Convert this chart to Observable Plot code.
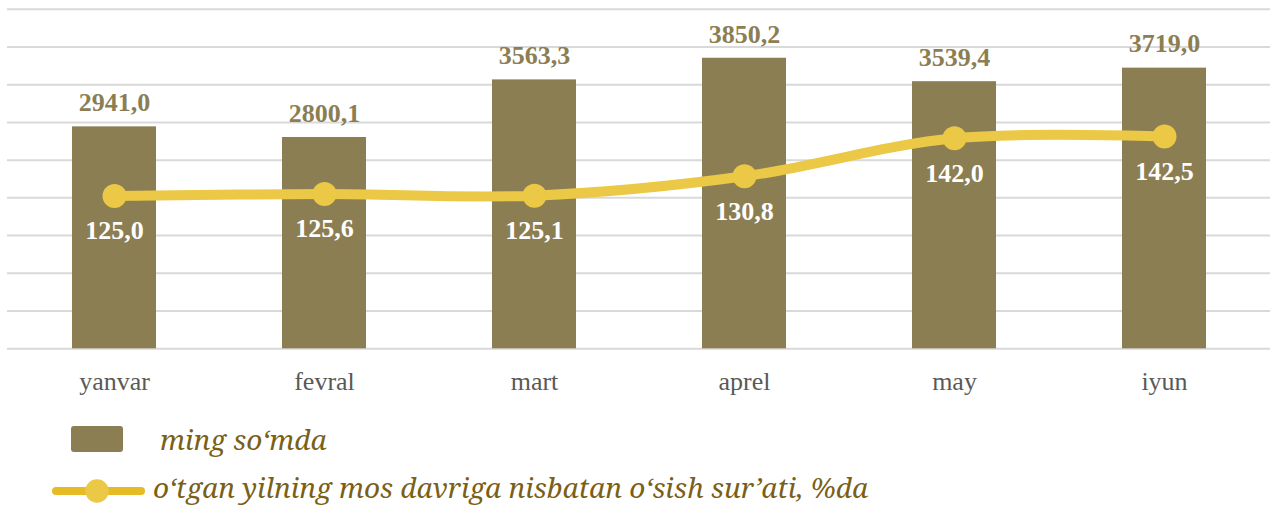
<!DOCTYPE html>
<html>
<head>
<meta charset="utf-8">
<script src="https://cdn.jsdelivr.net/npm/d3@7"></script>
<script src="https://cdn.jsdelivr.net/npm/@observablehq/plot@0.6"></script>
<style>
  html, body { margin: 0; padding: 0; background: #fff; }
  #wrap { position: relative; width: 1276px; height: 508px; overflow: hidden; }
  #chart { position: absolute; left: 0; top: 0; }
  .leg { position: absolute; font-family: 'Noto Serif', 'DejaVu Serif', serif; font-style: italic; color: #7A6016; font-size: 28px; line-height: 1; white-space: nowrap; }
  #chart svg text { font-family: 'Liberation Serif', 'Times New Roman', serif !important; }
</style>
</head>
<body>
<div id="wrap">
  <div id="chart"></div>
  <div id="legBar" style="position:absolute;left:71px;top:426px;width:52px;height:26px;background:#8B7E52;border-radius:3px;"></div>
  <div class="leg" id="legBarText" style="left:160px;top:425px;"></div>
  <svg style="position:absolute;left:46px;top:476px;" width="106" height="30">
    <line x1="10" y1="15" x2="95" y2="15" stroke="#E6BB25" stroke-width="8" stroke-linecap="round"></line>
    <circle cx="51" cy="15" r="11.7" fill="#EBC845"></circle>
  </svg>
  <div class="leg" id="legLineText" style="left:153px;top:473px;"></div>
</div>
<script>
const months = ["yanvar", "fevral", "mart", "aprel", "may", "iyun"];
const amounts = [2941.0, 2800.1, 3563.3, 3850.2, 3539.4, 3719.0];
const growth = [125.0, 125.6, 125.1, 130.8, 142.0, 142.5];
const barSeriesName = "ming so‘mda";
const lineSeriesName = "o‘tgan yilning mos davriga nisbatan o‘sish sur’ati, %da";
const leftDomain = [0, 4500];
const rightDomain = [80, 180];
const gridTicks = d3.range(0, 4501, 500);

const fmt = v => v.toFixed(1).replace(".", ",");
// map secondary-axis values onto the primary scale
const toLeft = d3.scaleLinear(rightDomain, leftDomain);

const data = months.map((m, i) => ({ month: m, amount: amounts[i], growth: growth[i], g: toLeft(growth[i]) }));

document.getElementById("legBarText").textContent = barSeriesName;
document.getElementById("legLineText").textContent = lineSeriesName;

const chart = Plot.plot({
  width: 1276,
  height: 400,
  marginLeft: 7,
  marginRight: 6,
  marginTop: 8.7,
  marginBottom: 51.7,
  style: { fontFamily: "'Liberation Serif', serif", background: "transparent" },
  x: { domain: months, paddingInner: 0.6, paddingOuter: 0.3, label: null },
  y: { domain: leftDomain, axis: null },
  marks: [
    Plot.ruleY(gridTicks, { stroke: "#D9D9D9", strokeWidth: 2 }),
    Plot.barY(data, { x: "month", y: "amount", fill: "#8B7E52" }),
    Plot.text(data, { x: "month", y: "amount", text: d => fmt(d.amount), dy: -24, fill: "#8B7E52", fontSize: 26, fontWeight: "bold" }),
    Plot.line(data, { x: "month", y: "g", stroke: "#EBC845", strokeWidth: 10, curve: "catmull-rom" }),
    Plot.dot(data, { x: "month", y: "g", r: 12, fill: "#EBC845" }),
    Plot.text(data, { x: "month", y: "g", text: d => fmt(d.growth), dy: 35, fill: "#FFFFFF", fontSize: 26, fontWeight: "bold" }),
    Plot.axisX({ tickSize: 0, tickPadding: 23, fontSize: 26, color: "#595959", label: null })
  ]
});
document.getElementById("chart").appendChild(chart);
</script>
</body>
</html>
